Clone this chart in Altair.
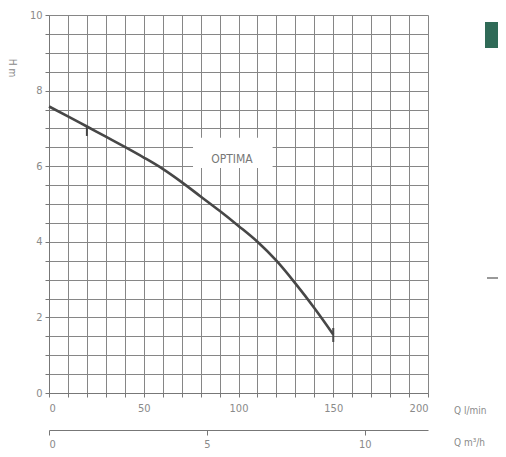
import altair as alt
import pandas as pd

# Pump curve (OPTIMA): flow Q [l/min] vs head H [m]
q_lmin = [0, 10, 20, 30, 40, 50, 60, 70, 80, 90, 100, 110, 120, 130, 140, 150]
h_m = [7.58, 7.32, 7.05, 6.78, 6.51, 6.23, 5.93, 5.58, 5.2, 4.82, 4.42, 4.0, 3.5, 2.9, 2.25, 1.55]

# small marks drawn across the curve
mark_q = [20, 150]
mark_y1 = [6.8, 1.35]
mark_y2 = [7.05, 1.72]

# axis ticks / grid
x_ticks = [0, 10, 20, 30, 40, 50, 60, 70, 80, 90, 100, 110, 120, 130, 140, 150, 160, 170, 180, 190, 200]
y_ticks = [0, 0.5, 1, 1.5, 2, 2.5, 3, 3.5, 4, 4.5, 5, 5.5, 6, 6.5, 7, 7.5, 8, 8.5, 9, 9.5, 10]
m3h_ticks = [0, 5, 10]
m3h_domain = [0, 12]

# series label box
label_text = ["OPTIMA"]
label_box = {"x": [76], "x2": [118], "y": [5.95], "y2": [6.75]}
label_pos = {"x": [96.5], "y": [6.2]}

GRID = "#868686"
TXT = "#8a8a8a"
FONT = "Liberation Sans Narrow, DejaVu Sans Condensed, Liberation Sans, sans-serif"

curve_df = pd.DataFrame({"q": q_lmin, "h": h_m})
marks_df = pd.DataFrame({"q": mark_q, "y1": mark_y1, "y2": mark_y2})
box_df = pd.DataFrame(label_box)
lab_df = pd.DataFrame({"x": label_pos["x"], "y": label_pos["y"], "t": label_text})
one = pd.DataFrame({"a": [0]})

xs = alt.Scale(domain=[0, 200], nice=False)
ys = alt.Scale(domain=[0, 10], nice=False)

x_axis = alt.Axis(values=x_ticks, labelExpr="datum.value % 50 == 0 ? format(datum.value, 'd') : ''",
                  labelOverlap=False,
                  grid=True, gridColor=GRID, gridWidth=1, gridOpacity=1,
                  tickSize=4, tickColor="#777", domainColor="#777",
                  labelColor=TXT, labelFontSize=11, labelFont=FONT, labelPadding=5, title=None)
y_axis = alt.Axis(values=y_ticks, labelExpr="datum.value % 2 == 0 ? format(datum.value, 'd') : ''",
                  labelOverlap=False,
                  grid=True, gridColor=GRID, gridWidth=1, gridOpacity=1,
                  tickSize=4, tickColor="#777", domainColor="#777",
                  labelColor=TXT, labelFontSize=11, labelFont=FONT, labelPadding=3, title=None)

curve = alt.Chart(curve_df).mark_line(color="#474747", strokeWidth=2.6, interpolate="monotone").encode(
    x=alt.X("q:Q", scale=xs, axis=x_axis),
    y=alt.Y("h:Q", scale=ys, axis=y_axis),
)

ticks = alt.Chart(marks_df).mark_rule(color="#474747", strokeWidth=2).encode(
    x=alt.X("q:Q", scale=xs, axis=x_axis), y=alt.Y("y1:Q", scale=ys, axis=y_axis), y2="y2:Q"
)

box = alt.Chart(box_df).mark_rect(color="white").encode(
    x=alt.X("x:Q", scale=xs, axis=x_axis), x2="x2:Q",
    y=alt.Y("y:Q", scale=ys, axis=y_axis), y2="y2:Q"
)

label = alt.Chart(lab_df).mark_text(color="#777", fontSize=12, font=FONT).encode(
    x=alt.X("x:Q", scale=xs, axis=x_axis), y=alt.Y("y:Q", scale=ys, axis=y_axis), text="t:N"
)

qlabel = alt.Chart(one).mark_text(text="Q  l/min", align="left", baseline="middle",
                                  color=TXT, fontSize=10, font=FONT).encode(
    x=alt.value(405), y=alt.value(396))
qlabel2 = alt.Chart(one).mark_text(text="Q  m³/h", align="left", baseline="middle",
                                   color=TXT, fontSize=10, font=FONT).encode(
    x=alt.value(405), y=alt.value(428))
hlabel = alt.Chart(one).mark_text(text="H  m", align="center", baseline="middle", angle=90,
                                  color=TXT, fontSize=10, font=FONT).encode(
    x=alt.value(-37), y=alt.value(53))

green = alt.Chart(one).mark_rect(color="#2f6a57").encode(
    x=alt.value(436), x2=alt.value(449), y=alt.value(7), y2=alt.value(33))
bline = alt.Chart(one).mark_rule(color="#777", strokeWidth=1.5).encode(
    x=alt.value(438), x2=alt.value(449), y=alt.value(263))

main = alt.layer(curve, box, label, ticks, qlabel, qlabel2, hlabel, green, bline)

m3_df = pd.DataFrame({"m": m3h_domain})
second = alt.Chart(m3_df).mark_point(opacity=0).encode(
    x=alt.X("m:Q", scale=alt.Scale(domain=m3h_domain, nice=False),
            axis=alt.Axis(values=m3h_ticks, orient="bottom", offset=37, grid=False,
                          tickSize=5, tickColor="#777", domainColor="#777",
                          labelColor=TXT, labelFontSize=11, labelFont=FONT,
                          labelPadding=3, title=None))
)

chart = alt.layer(main, second).resolve_scale(x="independent").properties(
    width=379, height=378,
    autosize=alt.AutoSizeParams(type="none"),
    padding={"left": 41, "top": 7, "right": 70, "bottom": 56},
).configure_view(stroke=None)

chart.save("out.html", embed_options={"renderer": "svg", "actions": False})
